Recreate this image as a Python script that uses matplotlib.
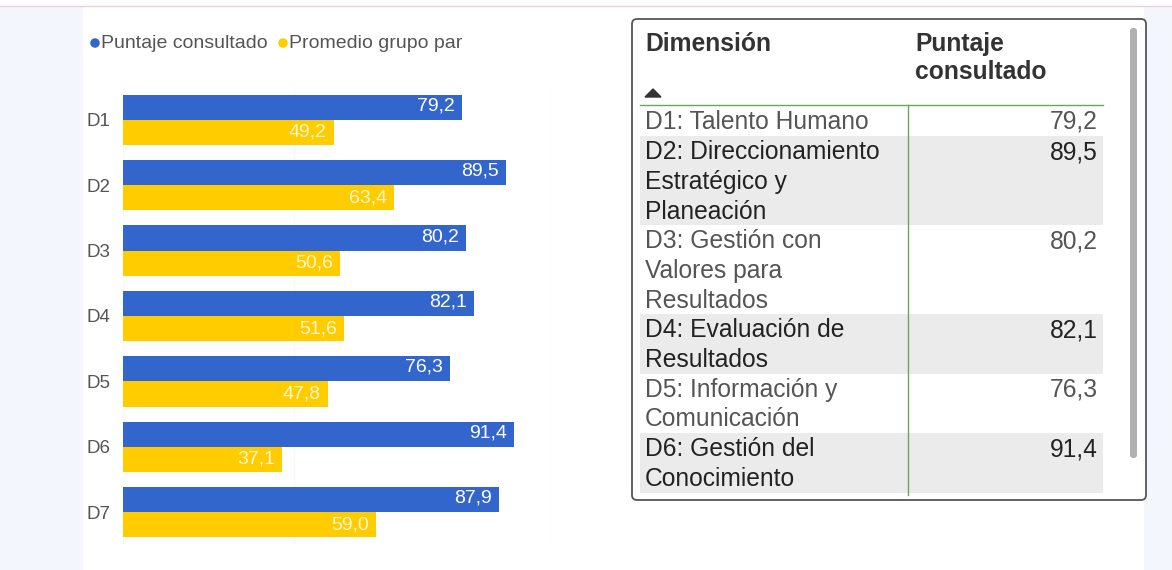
import matplotlib.pyplot as plt
from matplotlib.patches import Rectangle, FancyBboxPatch, Polygon

plt.rcParams['font.family'] = ['Liberation Sans', 'DejaVu Sans']

# data
categories = ['D1', 'D2', 'D3', 'D4', 'D5', 'D6', 'D7']
puntaje = [79.2, 89.5, 80.2, 82.1, 76.3, 91.4, 87.9]
promedio = [49.2, 63.4, 50.6, 51.6, 47.8, 37.1, 59.0]
series_names = ['Puntaje consultado', 'Promedio grupo par']

table_header = ['Dimensión', 'Puntaje\nconsultado']
table_dims = [
    ['D1: Talento Humano'],
    ['D2: Direccionamiento', 'Estratégico y', 'Planeación'],
    ['D3: Gestión con', 'Valores para', 'Resultados'],
    ['D4: Evaluación de', 'Resultados'],
    ['D5: Información y', 'Comunicación'],
    ['D6: Gestión del', 'Conocimiento'],
]
table_vals = puntaje[:6]

BLUE = '#3366cc'
YELLOW = '#ffcc00'
W, H = 1172, 570
TFS = 17.7

def fmt(v):
    return f'{v:.1f}'.replace('.', ',')

fig = plt.figure(figsize=(W / 100, H / 100), dpi=100)

# background canvas in pixel coordinates
bg = fig.add_axes([0, 0, 1, 1])
bg.set_xlim(0, W)
bg.set_ylim(H, 0)
bg.axis('off')
bg.add_patch(Rectangle((0, 6), W, H, color='#f3f6fc', zorder=0))
bg.add_patch(Rectangle((83, 6), 1060, H, color='white', zorder=1))
bg.plot([0, W], [5.5, 5.5], color='#f4cdd6', lw=1, zorder=2)

# legend
bg.scatter([95, 283], [43, 43], s=34, color=[BLUE, YELLOW], zorder=3)
bg.text(101, 43, series_names[0], fontsize=14, color='#555555', va='center', zorder=3)
bg.text(289, 43, series_names[1], fontsize=14, color='#555555', va='center', zorder=3)

# table
bg.add_patch(FancyBboxPatch((632, 19), 514, 481, boxstyle='round,pad=0,rounding_size=5',
                            fc='white', ec='#555555', lw=1.3, zorder=2))
row_h = 29.7
top = 106
grey_row = False
for lines, v in zip(table_dims, table_vals):
    h = row_h * len(lines) + (0.5 if len(lines) == 1 else 0)
    if grey_row:
        bg.add_patch(Rectangle((640, top), 463, h, color='#ebebeb', lw=0, zorder=3))
    col = '#222222' if grey_row else '#555555'
    for k, ln in enumerate(lines):
        bg.text(645, top + 16 + k * row_h, ln, fontsize=TFS, color=col, va='center', zorder=4)
    bg.text(1098, top + 16, fmt(v), fontsize=TFS, color=col, va='center', ha='right', zorder=4)
    top += h
    grey_row = not grey_row

bg.text(645, 44, table_header[0], fontsize=TFS, fontweight='bold', color='#333333', va='center', zorder=4)
hdr = table_header[1].split('\n')
bg.text(915, 44, hdr[0], fontsize=TFS, fontweight='bold', color='#333333', va='center', zorder=4)
bg.text(915, 72, hdr[1], fontsize=TFS, fontweight='bold', color='#333333', va='center', zorder=4)
bg.add_patch(Polygon([[645, 97], [661, 97], [653, 89]], color='#333333', zorder=4))
bg.plot([640, 1103], [104.5, 104.5], color='#6aa65a', lw=1, zorder=5)
bg.plot([908, 908], [104.5, 495], color='#6aa65a', lw=1, zorder=5)
bg.add_patch(FancyBboxPatch((1130, 28), 7, 430, boxstyle='round,pad=0,rounding_size=3',
                            fc='#b0b0b0', ec='none', zorder=4))

# bar chart
ax = fig.add_axes([123 / W, 1 - 545 / H, (551 - 123) / W, 458 / H])
ax.set_facecolor('none')
y = list(range(len(categories)))
bh = 0.385
yb = [i - bh / 2 for i in y]
yy = [i + bh / 2 for i in y]
ax.barh(yb, puntaje, height=bh, color=BLUE, zorder=2)
ax.barh(yy, promedio, height=bh, color=YELLOW, zorder=2)
for yi, v in zip(yb, puntaje):
    ax.annotate(fmt(v), (v, yi), xytext=(-5, 1), textcoords='offset points',
                ha='right', va='center', color='white', fontsize=14)
for yi, v in zip(yy, promedio):
    ax.annotate(fmt(v), (v, yi), xytext=(-5, 0), textcoords='offset points',
                ha='right', va='center', color='#fff6d0', fontsize=14)
ax.set_xlim(0, 100)
ax.set_ylim(len(categories) - 0.5, -0.5)
ax.set_yticks(y)
ax.set_yticklabels(categories, fontsize=13.5, color='#555555')
ax.tick_params(axis='y', length=0, pad=9)
ax.set_xticks([0, 40, 100])
ax.xaxis.grid(True, color='#f8f8f8', lw=1)
ax.tick_params(axis='x', length=0, labelbottom=False)
for s in ax.spines.values():
    s.set_visible(False)

fig.savefig('out.png', dpi=100)
